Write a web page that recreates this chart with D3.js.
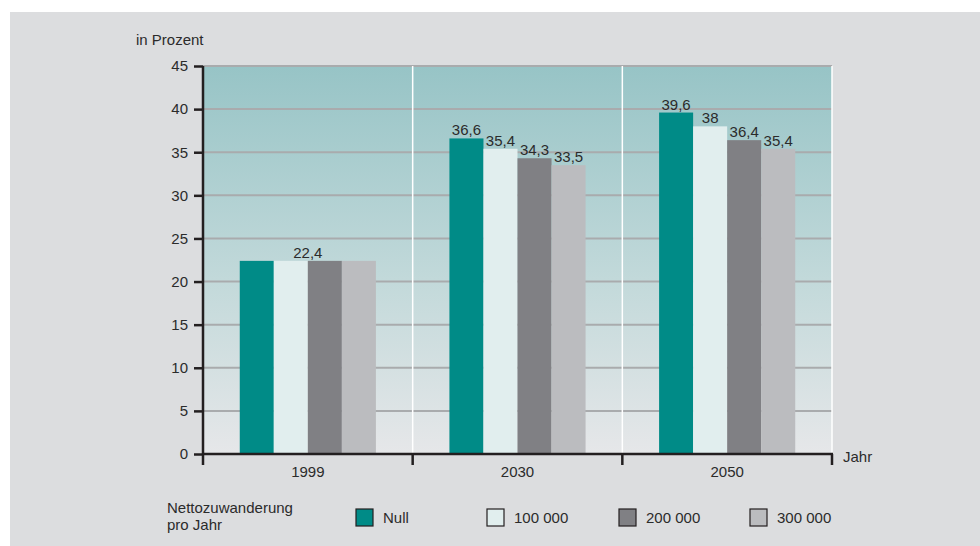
<!DOCTYPE html>
<html>
<head>
<meta charset="utf-8">
<script src="https://cdn.jsdelivr.net/npm/d3@7"></script>
<style>
  html, body { margin: 0; padding: 0; background: #ffffff; }
  svg { display: block; font-family: "Liberation Sans", Arial, Helvetica, sans-serif; }
</style>
</head>
<body>
<svg id="chart" width="980" height="546"></svg>
<script>
// Anteil der über 60-Jährigen nach Szenario der Nettozuwanderung
const years = ["1999", "2030", "2050"];
const scenarios = ["Null", "100 000", "200 000", "300 000"];
const valuesNull = [22.4, 36.6, 39.6];
const values100k = [22.4, 35.4, 38.0];
const values200k = [22.4, 34.3, 36.4];
const values300k = [22.4, 33.5, 35.4];
const yTicks = [0, 5, 10, 15, 20, 25, 30, 35, 40, 45];
const scenarioColors = ["#008b87", "#e1eeee", "#808084", "#bbbcbf"];

const series = [valuesNull, values100k, values200k, values300k];
const fmt = v => String(v).replace(".", ",");
const FS = 15;

const svg = d3.select("#chart");

// grey panel
svg.append("rect").attr("x", 10).attr("y", 12).attr("width", 970).attr("height", 534).attr("fill", "#dcdddf");

const plotL = 203, plotR = 832, plotT = 66, plotB = 454;

const x = d3.scaleBand().domain(years).range([plotL, plotR]).paddingInner(0).paddingOuter(0);
const xInner = d3.scaleBand().domain(scenarios).range([0, x.bandwidth()]).paddingOuter(1.08).paddingInner(0);
const y = d3.scaleLinear().domain([0, 45]).range([plotB, plotT]);

// gradient background of the plot area
const defs = svg.append("defs");
const grad = defs.append("linearGradient").attr("id", "bg").attr("x1", 0).attr("y1", 0).attr("x2", 0).attr("y2", 1);
grad.append("stop").attr("offset", "0%").attr("stop-color", "#97c4c6");
grad.append("stop").attr("offset", "55%").attr("stop-color", "#c2d9da");
grad.append("stop").attr("offset", "100%").attr("stop-color", "#e6e7e9");
svg.append("rect").attr("x", plotL).attr("y", plotT).attr("width", plotR - plotL).attr("height", plotB - plotT).attr("fill", "url(#bg)");

// horizontal grid lines
svg.append("g").selectAll("line").data(yTicks.filter(d => d > 0)).join("line")
  .attr("x1", plotL).attr("x2", plotR)
  .attr("y1", d => y(d)).attr("y2", d => y(d))
  .attr("stroke", "#a9abad").attr("stroke-width", 2);

// white separators between year groups and at the right edge
const separators = years.slice(1).map(d => x(d)).concat([plotR]);
svg.append("g").selectAll("line").data(separators).join("line")
  .attr("x1", d => d).attr("x2", d => d)
  .attr("y1", plotT).attr("y2", plotB)
  .attr("stroke", "#ffffff").attr("stroke-width", 1.5);

// bars
const groups = svg.append("g").selectAll("g").data(years).join("g")
  .attr("transform", d => `translate(${x(d)},0)`);
groups.selectAll("rect").data((d, i) => scenarios.map((s, j) => ({ s, j, v: series[j][i] }))).join("rect")
  .attr("x", d => xInner(d.s))
  .attr("width", xInner.bandwidth())
  .attr("y", d => y(d.v))
  .attr("height", d => y(0) - y(d.v))
  .attr("fill", d => scenarioColors[d.j]);

// value labels (1999: all scenarios equal, one label for the group)
groups.each(function (yr, i) {
  const g = d3.select(this);
  const vals = series.map(s => s[i]);
  const allSame = vals.every(v => v === vals[0]);
  const data = allSame
    ? [{ cx: x.bandwidth() / 2, v: vals[0] }]
    : scenarios.map((s, j) => ({ cx: xInner(s) + xInner.bandwidth() / 2, v: vals[j] }));
  g.selectAll("text").data(data).join("text")
    .attr("x", d => d.cx).attr("y", d => y(d.v) - 3)
    .attr("text-anchor", "middle").attr("font-size", FS).attr("fill", "#2b2b2b")
    .text(d => fmt(d.v));
});

// y axis
const yAxis = svg.append("g").attr("transform", `translate(${plotL},0)`)
  .call(d3.axisLeft(y).tickValues(yTicks).tickSize(9).tickPadding(6));
yAxis.select(".domain").attr("stroke", "#231f20").attr("stroke-width", 2.5).attr("d", `M0,${plotT}V${plotB + 1}`);
yAxis.selectAll(".tick line").attr("stroke", "#231f20").attr("stroke-width", 2.5);
yAxis.selectAll(".tick text").attr("font-size", FS).attr("fill", "#2b2b2b").attr("font-family", "Liberation Sans, Arial, sans-serif");

// x axis
const xAxis = svg.append("g").attr("transform", `translate(0,${plotB})`)
  .call(d3.axisBottom(x).tickSize(0).tickPadding(12));
xAxis.select(".domain").attr("stroke", "#231f20").attr("stroke-width", 2.5).attr("d", `M${plotL},0H${plotR + 1}`);
xAxis.selectAll(".tick text").attr("font-size", FS).attr("fill", "#2b2b2b").attr("font-family", "Liberation Sans, Arial, sans-serif");
// boundary ticks between year groups
const boundaries = years.map(d => x(d)).concat([plotR]);
svg.append("g").selectAll("line").data(boundaries).join("line")
  .attr("x1", d => d).attr("x2", d => d)
  .attr("y1", plotB).attr("y2", plotB + 11)
  .attr("stroke", "#231f20").attr("stroke-width", 2.5);

// axis titles
svg.append("text").attr("x", 136).attr("y", 45).attr("font-size", FS).attr("fill", "#2b2b2b").text("in Prozent");
svg.append("text").attr("x", 843).attr("y", 462).attr("font-size", FS).attr("fill", "#2b2b2b").text("Jahr");

// legend
const legendTitle = svg.append("text").attr("x", 167).attr("y", 513).attr("font-size", FS).attr("fill", "#2b2b2b");
legendTitle.append("tspan").attr("x", 167).text("Nettozuwanderung");
legendTitle.append("tspan").attr("x", 167).attr("dy", 17).text("pro Jahr");

const legendX = [356, 487, 619, 750];
const legend = svg.append("g").selectAll("g").data(scenarios).join("g")
  .attr("transform", (d, i) => `translate(${legendX[i]},509)`);
legend.append("rect").attr("width", 17).attr("height", 17)
  .attr("fill", (d, i) => scenarioColors[i]).attr("stroke", "#231f20").attr("stroke-width", 1.2);
legend.append("text").attr("x", 27).attr("y", 14).attr("font-size", FS).attr("fill", "#2b2b2b").text(d => d);
</script>
</body>
</html>
